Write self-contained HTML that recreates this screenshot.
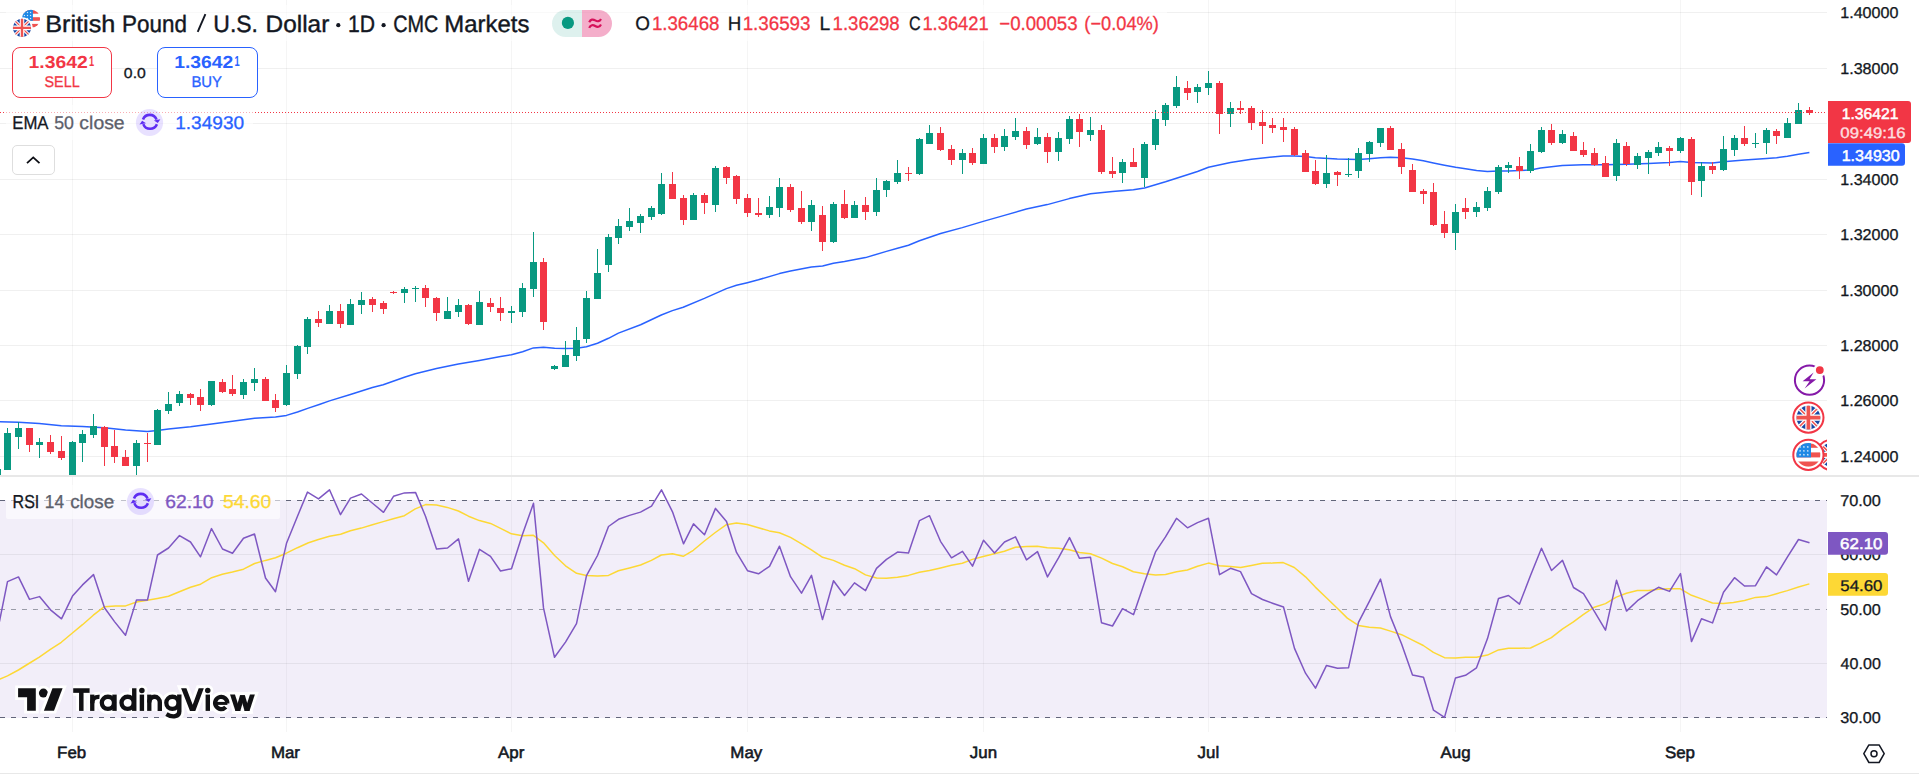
<!DOCTYPE html>
<html>
<head>
<meta charset="utf-8">
<title>GBPUSD chart</title>
<style>
html,body{margin:0;padding:0;background:#fff;}
body{width:1919px;height:774px;overflow:hidden;position:relative;font-family:"Liberation Sans",sans-serif;color:#131722;}
.t{position:absolute;white-space:nowrap;line-height:1;}
.ax{font-size:15.5px;transform:translateY(-50%);letter-spacing:0.15px;}
.mo{font-size:15.5px;transform:translate(-50%,-50%);font-weight:bold;letter-spacing:-0.3px;}
#title{left:46.5px;top:10px;font-size:22.5px;line-height:26px;}
#ohlc{left:636px;top:13px;font-size:17.5px;line-height:20px;}
#ohlc b{font-weight:normal;color:#f23645;}
#ohlc span{margin-left:9px}
.btn{background:#fff;position:absolute;top:47px;height:49px;width:98px;border:1px solid;border-radius:8px;text-align:center;font-weight:bold;}
.btn .p{position:absolute;left:0;right:0;top:5px;font-size:16px;line-height:20px;letter-spacing:0.6px}
.btn .p sup{font-size:12px;vertical-align:top;position:relative;top:-2px;letter-spacing:0}
.btn .l{position:absolute;left:0;right:0;top:25px;font-size:14.5px;line-height:20px;font-weight:normal;letter-spacing:0.2px}
.tag{position:absolute;color:#fff;font-size:15.5px;line-height:1;white-space:nowrap}
</style>
</head>
<body>
<svg id="chart" width="1919" height="774" viewBox="0 0 1919 774" style="position:absolute;left:0;top:0"><g shape-rendering="crispEdges"><rect x="72" y="0" width="1" height="732" fill="#000" fill-opacity="0.04"/><rect x="286" y="0" width="1" height="732" fill="#000" fill-opacity="0.04"/><rect x="511" y="0" width="1" height="732" fill="#000" fill-opacity="0.04"/><rect x="747" y="0" width="1" height="732" fill="#000" fill-opacity="0.04"/><rect x="983" y="0" width="1" height="732" fill="#000" fill-opacity="0.04"/><rect x="1208" y="0" width="1" height="732" fill="#000" fill-opacity="0.04"/><rect x="1455" y="0" width="1" height="732" fill="#000" fill-opacity="0.04"/><rect x="1680" y="0" width="1" height="732" fill="#000" fill-opacity="0.04"/><rect x="0" y="12" width="1827" height="1" fill="#000" fill-opacity="0.06"/><rect x="0" y="68" width="1827" height="1" fill="#000" fill-opacity="0.06"/><rect x="0" y="123" width="1827" height="1" fill="#000" fill-opacity="0.06"/><rect x="0" y="179" width="1827" height="1" fill="#000" fill-opacity="0.06"/><rect x="0" y="234" width="1827" height="1" fill="#000" fill-opacity="0.06"/><rect x="0" y="290" width="1827" height="1" fill="#000" fill-opacity="0.06"/><rect x="0" y="345" width="1827" height="1" fill="#000" fill-opacity="0.06"/><rect x="0" y="400" width="1827" height="1" fill="#000" fill-opacity="0.06"/><rect x="0" y="456" width="1827" height="1" fill="#000" fill-opacity="0.06"/></g>
<rect x="0" y="500" width="1827" height="218" fill="#7e57c2" fill-opacity="0.1" shape-rendering="crispEdges"/>
<rect x="0" y="554" width="1827" height="1" fill="#000" fill-opacity="0.06" shape-rendering="crispEdges"/>
<rect x="0" y="663" width="1827" height="1" fill="#000" fill-opacity="0.06" shape-rendering="crispEdges"/>
<line x1="0" y1="500.5" x2="1827" y2="500.5" stroke="#62657a" stroke-width="1" stroke-dasharray="5 6" shape-rendering="crispEdges"/>
<line x1="0" y1="609.5" x2="1827" y2="609.5" stroke="#9a9ca8" stroke-width="1" stroke-dasharray="5 6" shape-rendering="crispEdges"/>
<line x1="0" y1="717.5" x2="1827" y2="717.5" stroke="#62657a" stroke-width="1" stroke-dasharray="5 6" shape-rendering="crispEdges"/>
<clipPath id="cm"><rect x="0" y="0" width="1827" height="475"/></clipPath>
<clipPath id="cr"><rect x="0" y="477" width="1827" height="255"/></clipPath>
<path d="M-5.2,421.8 L0.0,421.8 L18.4,422.3 L39.3,423.6 L61.3,425.7 L82.5,426.5 L104.4,427.8 L125.6,430.1 L147.3,431.4 L157.4,430.6 L168.5,429.1 L190.5,426.7 L211.7,423.9 L232.4,421.3 L254.6,418.2 L275.5,416.9 L286.4,415.4 L297.5,412.0 L308.4,408.1 L320.0,404.2 L329.5,400.9 L350.4,394.5 L372.4,387.5 L383.2,384.7 L404.4,377.2 L415.3,373.8 L436.5,368.6 L458.4,364.0 L479.4,360.4 L500.6,356.5 L511.4,354.7 L522.6,351.8 L533.4,347.9 L543.5,347.2 L554.6,348.2 L565.5,348.5 L576.6,348.2 L586.4,346.7 L597.5,343.3 L608.5,338.3 L618.4,333.1 L640.6,324.8 L661.3,315.0 L672.4,310.6 L683.2,307.2 L704.4,298.4 L726.4,288.6 L736.5,285.3 L747.3,282.7 L758.4,279.8 L779.4,273.6 L790.5,271.1 L811.4,266.9 L822.6,265.9 L833.4,263.3 L844.5,261.5 L865.5,257.6 L886.4,251.4 L897.5,248.3 L908.5,245.2 L919.4,240.8 L940.6,233.5 L962.3,227.6 L983.2,221.4 L1004.4,215.4 L1026.4,209.0 L1047.3,204.6 L1069.3,198.6 L1090.5,193.7 L1112.5,191.6 L1133.4,189.8 L1144.5,188.0 L1165.5,181.8 L1187.4,174.8 L1197.5,171.5 L1208.5,167.3 L1230.5,162.4 L1251.4,159.3 L1272.4,156.9 L1283.2,155.9 L1294.3,155.9 L1305.5,156.4 L1315.3,157.7 L1337.3,159.0 L1358.4,159.5 L1369.3,158.7 L1380.4,157.7 L1390.5,157.2 L1401.6,157.7 L1412.5,159.0 L1423.3,160.8 L1433.4,162.9 L1444.5,165.2 L1455.6,167.3 L1465.5,168.8 L1476.6,170.6 L1487.4,171.4 L1498.5,170.9 L1508.5,170.9 L1519.4,170.6 L1530.5,169.9 L1540.6,168.0 L1562.3,165.5 L1583.2,164.7 L1605.5,164.7 L1626.4,164.2 L1648.4,163.4 L1669.3,162.6 L1680.4,161.6 L1691.5,162.4 L1712.5,162.9 L1723.3,161.8 L1744.5,160.0 L1766.5,158.5 L1776.6,157.7 L1787.4,156.2 L1798.5,154.3 L1809.4,152.5" fill="none" stroke="#2962ff" stroke-width="1.5" stroke-linejoin="round" clip-path="url(#cm)"/>
<g clip-path="url(#cm)" shape-rendering="crispEdges"><rect x="-3" y="468" width="1" height="29" fill="#089981"/><rect x="-6" y="469" width="7" height="28" fill="#089981"/><rect x="7" y="428" width="1" height="42" fill="#089981"/><rect x="4" y="433" width="7" height="37" fill="#089981"/><rect x="18" y="422" width="1" height="27" fill="#089981"/><rect x="15" y="428" width="7" height="9" fill="#089981"/><rect x="29" y="428" width="1" height="24" fill="#f23645"/><rect x="26" y="428" width="7" height="17" fill="#f23645"/><rect x="39" y="438" width="1" height="20" fill="#089981"/><rect x="36" y="442" width="7" height="3" fill="#089981"/><rect x="50" y="435" width="1" height="19" fill="#f23645"/><rect x="47" y="442" width="7" height="10" fill="#f23645"/><rect x="61" y="436" width="1" height="24" fill="#f23645"/><rect x="58" y="451" width="7" height="7" fill="#f23645"/><rect x="72" y="441" width="1" height="56" fill="#089981"/><rect x="69" y="442" width="7" height="55" fill="#089981"/><rect x="82" y="430" width="1" height="32" fill="#089981"/><rect x="79" y="434" width="7" height="9" fill="#089981"/><rect x="93" y="414" width="1" height="24" fill="#089981"/><rect x="90" y="426" width="7" height="9" fill="#089981"/><rect x="104" y="426" width="1" height="40" fill="#f23645"/><rect x="101" y="427" width="7" height="20" fill="#f23645"/><rect x="114" y="430" width="1" height="33" fill="#f23645"/><rect x="111" y="446" width="7" height="11" fill="#f23645"/><rect x="125" y="450" width="1" height="16" fill="#f23645"/><rect x="122" y="457" width="7" height="9" fill="#f23645"/><rect x="136" y="440" width="1" height="35" fill="#089981"/><rect x="133" y="443" width="7" height="23" fill="#089981"/><rect x="147" y="433" width="1" height="29" fill="#f23645"/><rect x="144" y="443" width="7" height="1" fill="#f23645"/><rect x="157" y="409" width="1" height="36" fill="#089981"/><rect x="154" y="410" width="7" height="35" fill="#089981"/><rect x="168" y="392" width="1" height="22" fill="#089981"/><rect x="165" y="404" width="7" height="7" fill="#089981"/><rect x="179" y="391" width="1" height="15" fill="#089981"/><rect x="176" y="394" width="7" height="9" fill="#089981"/><rect x="190" y="393" width="1" height="12" fill="#f23645"/><rect x="187" y="394" width="7" height="4" fill="#f23645"/><rect x="200" y="389" width="1" height="22" fill="#f23645"/><rect x="197" y="397" width="7" height="8" fill="#f23645"/><rect x="211" y="381" width="1" height="25" fill="#089981"/><rect x="208" y="381" width="7" height="24" fill="#089981"/><rect x="222" y="379" width="1" height="14" fill="#f23645"/><rect x="219" y="382" width="7" height="10" fill="#f23645"/><rect x="232" y="375" width="1" height="21" fill="#f23645"/><rect x="229" y="389" width="7" height="5" fill="#f23645"/><rect x="243" y="379" width="1" height="20" fill="#089981"/><rect x="240" y="382" width="7" height="13" fill="#089981"/><rect x="254" y="368" width="1" height="23" fill="#089981"/><rect x="251" y="379" width="7" height="4" fill="#089981"/><rect x="265" y="377" width="1" height="24" fill="#f23645"/><rect x="262" y="379" width="7" height="22" fill="#f23645"/><rect x="275" y="394" width="1" height="18" fill="#f23645"/><rect x="272" y="400" width="7" height="8" fill="#f23645"/><rect x="286" y="365" width="1" height="41" fill="#089981"/><rect x="283" y="373" width="7" height="32" fill="#089981"/><rect x="297" y="345" width="1" height="34" fill="#089981"/><rect x="294" y="346" width="7" height="28" fill="#089981"/><rect x="307" y="317" width="1" height="37" fill="#089981"/><rect x="304" y="319" width="7" height="28" fill="#089981"/><rect x="318" y="311" width="1" height="16" fill="#f23645"/><rect x="315" y="319" width="7" height="4" fill="#f23645"/><rect x="329" y="305" width="1" height="19" fill="#089981"/><rect x="326" y="311" width="7" height="13" fill="#089981"/><rect x="340" y="304" width="1" height="24" fill="#f23645"/><rect x="337" y="311" width="7" height="13" fill="#f23645"/><rect x="350" y="299" width="1" height="26" fill="#089981"/><rect x="347" y="304" width="7" height="21" fill="#089981"/><rect x="361" y="292" width="1" height="22" fill="#089981"/><rect x="358" y="300" width="7" height="5" fill="#089981"/><rect x="372" y="297" width="1" height="15" fill="#f23645"/><rect x="369" y="299" width="7" height="6" fill="#f23645"/><rect x="383" y="301" width="1" height="13" fill="#f23645"/><rect x="380" y="303" width="7" height="6" fill="#f23645"/><rect x="393" y="291" width="1" height="3" fill="#f23645"/><rect x="390" y="292" width="7" height="1" fill="#f23645"/><rect x="404" y="287" width="1" height="16" fill="#089981"/><rect x="401" y="289" width="7" height="4" fill="#089981"/><rect x="415" y="286" width="1" height="16" fill="#089981"/><rect x="412" y="288" width="7" height="1" fill="#089981"/><rect x="425" y="285" width="1" height="22" fill="#f23645"/><rect x="422" y="288" width="7" height="10" fill="#f23645"/><rect x="436" y="297" width="1" height="24" fill="#f23645"/><rect x="433" y="298" width="7" height="15" fill="#f23645"/><rect x="447" y="297" width="1" height="22" fill="#089981"/><rect x="444" y="311" width="7" height="8" fill="#089981"/><rect x="458" y="299" width="1" height="18" fill="#089981"/><rect x="455" y="305" width="7" height="7" fill="#089981"/><rect x="468" y="304" width="1" height="21" fill="#f23645"/><rect x="465" y="305" width="7" height="19" fill="#f23645"/><rect x="479" y="291" width="1" height="34" fill="#089981"/><rect x="476" y="302" width="7" height="23" fill="#089981"/><rect x="490" y="298" width="1" height="14" fill="#f23645"/><rect x="487" y="303" width="7" height="4" fill="#f23645"/><rect x="500" y="297" width="1" height="24" fill="#f23645"/><rect x="497" y="308" width="7" height="5" fill="#f23645"/><rect x="511" y="306" width="1" height="17" fill="#089981"/><rect x="508" y="311" width="7" height="2" fill="#089981"/><rect x="522" y="283" width="1" height="34" fill="#089981"/><rect x="519" y="288" width="7" height="24" fill="#089981"/><rect x="533" y="232" width="1" height="65" fill="#089981"/><rect x="530" y="262" width="7" height="27" fill="#089981"/><rect x="543" y="258" width="1" height="72" fill="#f23645"/><rect x="540" y="262" width="7" height="60" fill="#f23645"/><rect x="554" y="365" width="1" height="5" fill="#089981"/><rect x="551" y="366" width="7" height="3" fill="#089981"/><rect x="565" y="341" width="1" height="26" fill="#089981"/><rect x="562" y="355" width="7" height="12" fill="#089981"/><rect x="576" y="327" width="1" height="34" fill="#089981"/><rect x="573" y="340" width="7" height="16" fill="#089981"/><rect x="586" y="291" width="1" height="52" fill="#089981"/><rect x="583" y="298" width="7" height="41" fill="#089981"/><rect x="597" y="249" width="1" height="50" fill="#089981"/><rect x="594" y="273" width="7" height="26" fill="#089981"/><rect x="608" y="234" width="1" height="38" fill="#089981"/><rect x="605" y="237" width="7" height="28" fill="#089981"/><rect x="618" y="219" width="1" height="25" fill="#089981"/><rect x="615" y="226" width="7" height="12" fill="#089981"/><rect x="629" y="208" width="1" height="23" fill="#089981"/><rect x="626" y="221" width="7" height="6" fill="#089981"/><rect x="640" y="214" width="1" height="19" fill="#089981"/><rect x="637" y="216" width="7" height="7" fill="#089981"/><rect x="651" y="206" width="1" height="14" fill="#089981"/><rect x="648" y="208" width="7" height="9" fill="#089981"/><rect x="661" y="173" width="1" height="42" fill="#089981"/><rect x="658" y="184" width="7" height="30" fill="#089981"/><rect x="672" y="172" width="1" height="27" fill="#f23645"/><rect x="669" y="184" width="7" height="15" fill="#f23645"/><rect x="683" y="195" width="1" height="30" fill="#f23645"/><rect x="680" y="198" width="7" height="22" fill="#f23645"/><rect x="693" y="193" width="1" height="27" fill="#089981"/><rect x="690" y="195" width="7" height="25" fill="#089981"/><rect x="704" y="193" width="1" height="21" fill="#f23645"/><rect x="701" y="195" width="7" height="8" fill="#f23645"/><rect x="715" y="166" width="1" height="46" fill="#089981"/><rect x="712" y="168" width="7" height="37" fill="#089981"/><rect x="726" y="166" width="1" height="18" fill="#f23645"/><rect x="723" y="167" width="7" height="11" fill="#f23645"/><rect x="736" y="175" width="1" height="29" fill="#f23645"/><rect x="733" y="176" width="7" height="23" fill="#f23645"/><rect x="747" y="194" width="1" height="23" fill="#f23645"/><rect x="744" y="198" width="7" height="15" fill="#f23645"/><rect x="758" y="198" width="1" height="19" fill="#f23645"/><rect x="755" y="213" width="7" height="2" fill="#f23645"/><rect x="769" y="196" width="1" height="22" fill="#089981"/><rect x="766" y="207" width="7" height="8" fill="#089981"/><rect x="779" y="178" width="1" height="39" fill="#089981"/><rect x="776" y="187" width="7" height="21" fill="#089981"/><rect x="790" y="184" width="1" height="28" fill="#f23645"/><rect x="787" y="187" width="7" height="23" fill="#f23645"/><rect x="801" y="191" width="1" height="33" fill="#f23645"/><rect x="798" y="208" width="7" height="14" fill="#f23645"/><rect x="811" y="200" width="1" height="31" fill="#089981"/><rect x="808" y="205" width="7" height="17" fill="#089981"/><rect x="822" y="206" width="1" height="45" fill="#f23645"/><rect x="819" y="215" width="7" height="27" fill="#f23645"/><rect x="833" y="202" width="1" height="41" fill="#089981"/><rect x="830" y="204" width="7" height="38" fill="#089981"/><rect x="844" y="190" width="1" height="29" fill="#f23645"/><rect x="841" y="204" width="7" height="14" fill="#f23645"/><rect x="854" y="201" width="1" height="17" fill="#089981"/><rect x="851" y="205" width="7" height="13" fill="#089981"/><rect x="865" y="197" width="1" height="23" fill="#f23645"/><rect x="862" y="205" width="7" height="7" fill="#f23645"/><rect x="876" y="178" width="1" height="38" fill="#089981"/><rect x="873" y="190" width="7" height="22" fill="#089981"/><rect x="886" y="180" width="1" height="17" fill="#089981"/><rect x="883" y="181" width="7" height="9" fill="#089981"/><rect x="897" y="160" width="1" height="24" fill="#089981"/><rect x="894" y="173" width="7" height="9" fill="#089981"/><rect x="908" y="167" width="1" height="14" fill="#f23645"/><rect x="905" y="173" width="7" height="1" fill="#f23645"/><rect x="919" y="138" width="1" height="37" fill="#089981"/><rect x="916" y="139" width="7" height="35" fill="#089981"/><rect x="929" y="125" width="1" height="19" fill="#089981"/><rect x="926" y="133" width="7" height="11" fill="#089981"/><rect x="940" y="127" width="1" height="24" fill="#f23645"/><rect x="937" y="133" width="7" height="17" fill="#f23645"/><rect x="951" y="145" width="1" height="20" fill="#f23645"/><rect x="948" y="149" width="7" height="11" fill="#f23645"/><rect x="962" y="149" width="1" height="25" fill="#089981"/><rect x="959" y="153" width="7" height="7" fill="#089981"/><rect x="972" y="148" width="1" height="17" fill="#f23645"/><rect x="969" y="153" width="7" height="10" fill="#f23645"/><rect x="983" y="134" width="1" height="30" fill="#089981"/><rect x="980" y="138" width="7" height="26" fill="#089981"/><rect x="994" y="134" width="1" height="19" fill="#f23645"/><rect x="991" y="138" width="7" height="9" fill="#f23645"/><rect x="1004" y="129" width="1" height="22" fill="#089981"/><rect x="1001" y="136" width="7" height="11" fill="#089981"/><rect x="1015" y="118" width="1" height="22" fill="#089981"/><rect x="1012" y="131" width="7" height="6" fill="#089981"/><rect x="1026" y="127" width="1" height="22" fill="#f23645"/><rect x="1023" y="131" width="7" height="14" fill="#f23645"/><rect x="1037" y="128" width="1" height="17" fill="#089981"/><rect x="1034" y="137" width="7" height="7" fill="#089981"/><rect x="1047" y="133" width="1" height="30" fill="#f23645"/><rect x="1044" y="137" width="7" height="15" fill="#f23645"/><rect x="1058" y="132" width="1" height="29" fill="#089981"/><rect x="1055" y="138" width="7" height="14" fill="#089981"/><rect x="1069" y="116" width="1" height="28" fill="#089981"/><rect x="1066" y="119" width="7" height="20" fill="#089981"/><rect x="1079" y="114" width="1" height="33" fill="#f23645"/><rect x="1076" y="119" width="7" height="13" fill="#f23645"/><rect x="1090" y="117" width="1" height="24" fill="#089981"/><rect x="1087" y="130" width="7" height="5" fill="#089981"/><rect x="1101" y="125" width="1" height="49" fill="#f23645"/><rect x="1098" y="130" width="7" height="42" fill="#f23645"/><rect x="1112" y="157" width="1" height="21" fill="#f23645"/><rect x="1109" y="171" width="7" height="3" fill="#f23645"/><rect x="1122" y="159" width="1" height="24" fill="#089981"/><rect x="1119" y="162" width="7" height="11" fill="#089981"/><rect x="1133" y="148" width="1" height="19" fill="#f23645"/><rect x="1130" y="162" width="7" height="5" fill="#f23645"/><rect x="1144" y="142" width="1" height="45" fill="#089981"/><rect x="1141" y="144" width="7" height="34" fill="#089981"/><rect x="1155" y="110" width="1" height="40" fill="#089981"/><rect x="1152" y="119" width="7" height="26" fill="#089981"/><rect x="1165" y="103" width="1" height="23" fill="#089981"/><rect x="1162" y="105" width="7" height="15" fill="#089981"/><rect x="1176" y="76" width="1" height="32" fill="#089981"/><rect x="1173" y="87" width="7" height="19" fill="#089981"/><rect x="1187" y="81" width="1" height="19" fill="#f23645"/><rect x="1184" y="88" width="7" height="5" fill="#f23645"/><rect x="1197" y="84" width="1" height="19" fill="#089981"/><rect x="1194" y="87" width="7" height="5" fill="#089981"/><rect x="1208" y="71" width="1" height="24" fill="#089981"/><rect x="1205" y="83" width="7" height="5" fill="#089981"/><rect x="1219" y="81" width="1" height="53" fill="#f23645"/><rect x="1216" y="83" width="7" height="31" fill="#f23645"/><rect x="1230" y="102" width="1" height="25" fill="#089981"/><rect x="1227" y="108" width="7" height="6" fill="#089981"/><rect x="1240" y="101" width="1" height="13" fill="#f23645"/><rect x="1237" y="108" width="7" height="2" fill="#f23645"/><rect x="1251" y="106" width="1" height="24" fill="#f23645"/><rect x="1248" y="108" width="7" height="15" fill="#f23645"/><rect x="1262" y="110" width="1" height="34" fill="#f23645"/><rect x="1259" y="122" width="7" height="4" fill="#f23645"/><rect x="1272" y="118" width="1" height="15" fill="#f23645"/><rect x="1269" y="125" width="7" height="3" fill="#f23645"/><rect x="1283" y="118" width="1" height="24" fill="#f23645"/><rect x="1280" y="127" width="7" height="3" fill="#f23645"/><rect x="1294" y="127" width="1" height="29" fill="#f23645"/><rect x="1291" y="129" width="7" height="26" fill="#f23645"/><rect x="1305" y="150" width="1" height="22" fill="#f23645"/><rect x="1302" y="153" width="7" height="19" fill="#f23645"/><rect x="1315" y="160" width="1" height="25" fill="#f23645"/><rect x="1312" y="171" width="7" height="13" fill="#f23645"/><rect x="1326" y="155" width="1" height="33" fill="#089981"/><rect x="1323" y="173" width="7" height="11" fill="#089981"/><rect x="1337" y="171" width="1" height="15" fill="#f23645"/><rect x="1334" y="172" width="7" height="3" fill="#f23645"/><rect x="1348" y="158" width="1" height="19" fill="#089981"/><rect x="1345" y="174" width="7" height="1" fill="#089981"/><rect x="1358" y="148" width="1" height="30" fill="#089981"/><rect x="1355" y="153" width="7" height="18" fill="#089981"/><rect x="1369" y="141" width="1" height="21" fill="#089981"/><rect x="1366" y="142" width="7" height="12" fill="#089981"/><rect x="1380" y="128" width="1" height="19" fill="#089981"/><rect x="1377" y="128" width="7" height="15" fill="#089981"/><rect x="1390" y="126" width="1" height="24" fill="#f23645"/><rect x="1387" y="128" width="7" height="22" fill="#f23645"/><rect x="1401" y="143" width="1" height="31" fill="#f23645"/><rect x="1398" y="149" width="7" height="18" fill="#f23645"/><rect x="1412" y="164" width="1" height="28" fill="#f23645"/><rect x="1409" y="170" width="7" height="22" fill="#f23645"/><rect x="1423" y="189" width="1" height="15" fill="#f23645"/><rect x="1420" y="191" width="7" height="3" fill="#f23645"/><rect x="1433" y="183" width="1" height="43" fill="#f23645"/><rect x="1430" y="192" width="7" height="33" fill="#f23645"/><rect x="1444" y="211" width="1" height="27" fill="#f23645"/><rect x="1441" y="224" width="7" height="9" fill="#f23645"/><rect x="1455" y="204" width="1" height="46" fill="#089981"/><rect x="1452" y="212" width="7" height="21" fill="#089981"/><rect x="1465" y="198" width="1" height="21" fill="#f23645"/><rect x="1462" y="208" width="7" height="4" fill="#f23645"/><rect x="1476" y="202" width="1" height="15" fill="#089981"/><rect x="1473" y="207" width="7" height="5" fill="#089981"/><rect x="1487" y="187" width="1" height="24" fill="#089981"/><rect x="1484" y="191" width="7" height="17" fill="#089981"/><rect x="1498" y="165" width="1" height="29" fill="#089981"/><rect x="1495" y="167" width="7" height="25" fill="#089981"/><rect x="1508" y="162" width="1" height="11" fill="#089981"/><rect x="1505" y="165" width="7" height="3" fill="#089981"/><rect x="1519" y="157" width="1" height="22" fill="#f23645"/><rect x="1516" y="166" width="7" height="5" fill="#f23645"/><rect x="1530" y="144" width="1" height="29" fill="#089981"/><rect x="1527" y="151" width="7" height="20" fill="#089981"/><rect x="1541" y="127" width="1" height="26" fill="#089981"/><rect x="1538" y="130" width="7" height="22" fill="#089981"/><rect x="1551" y="124" width="1" height="21" fill="#f23645"/><rect x="1548" y="130" width="7" height="13" fill="#f23645"/><rect x="1562" y="130" width="1" height="14" fill="#089981"/><rect x="1559" y="134" width="7" height="9" fill="#089981"/><rect x="1573" y="132" width="1" height="19" fill="#f23645"/><rect x="1570" y="136" width="7" height="15" fill="#f23645"/><rect x="1583" y="142" width="1" height="15" fill="#f23645"/><rect x="1580" y="150" width="7" height="5" fill="#f23645"/><rect x="1594" y="148" width="1" height="18" fill="#f23645"/><rect x="1591" y="153" width="7" height="12" fill="#f23645"/><rect x="1605" y="156" width="1" height="21" fill="#f23645"/><rect x="1602" y="163" width="7" height="14" fill="#f23645"/><rect x="1616" y="139" width="1" height="42" fill="#089981"/><rect x="1613" y="143" width="7" height="33" fill="#089981"/><rect x="1626" y="142" width="1" height="24" fill="#f23645"/><rect x="1623" y="146" width="7" height="18" fill="#f23645"/><rect x="1637" y="153" width="1" height="16" fill="#089981"/><rect x="1634" y="156" width="7" height="9" fill="#089981"/><rect x="1648" y="150" width="1" height="24" fill="#089981"/><rect x="1645" y="152" width="7" height="6" fill="#089981"/><rect x="1658" y="142" width="1" height="14" fill="#089981"/><rect x="1655" y="147" width="7" height="6" fill="#089981"/><rect x="1669" y="146" width="1" height="20" fill="#f23645"/><rect x="1666" y="148" width="7" height="3" fill="#f23645"/><rect x="1680" y="137" width="1" height="16" fill="#089981"/><rect x="1677" y="138" width="7" height="13" fill="#089981"/><rect x="1691" y="137" width="1" height="58" fill="#f23645"/><rect x="1688" y="139" width="7" height="43" fill="#f23645"/><rect x="1701" y="162" width="1" height="35" fill="#089981"/><rect x="1698" y="166" width="7" height="15" fill="#089981"/><rect x="1712" y="162" width="1" height="12" fill="#f23645"/><rect x="1709" y="166" width="7" height="4" fill="#f23645"/><rect x="1723" y="136" width="1" height="35" fill="#089981"/><rect x="1720" y="149" width="7" height="21" fill="#089981"/><rect x="1734" y="135" width="1" height="21" fill="#089981"/><rect x="1731" y="138" width="7" height="12" fill="#089981"/><rect x="1744" y="126" width="1" height="20" fill="#f23645"/><rect x="1741" y="138" width="7" height="6" fill="#f23645"/><rect x="1755" y="133" width="1" height="15" fill="#089981"/><rect x="1752" y="143" width="7" height="1" fill="#089981"/><rect x="1766" y="128" width="1" height="26" fill="#089981"/><rect x="1763" y="130" width="7" height="13" fill="#089981"/><rect x="1776" y="129" width="1" height="15" fill="#f23645"/><rect x="1773" y="131" width="7" height="5" fill="#f23645"/><rect x="1787" y="118" width="1" height="20" fill="#089981"/><rect x="1784" y="123" width="7" height="15" fill="#089981"/><rect x="1798" y="103" width="1" height="21" fill="#089981"/><rect x="1795" y="110" width="7" height="14" fill="#089981"/><rect x="1809" y="107" width="1" height="8" fill="#f23645"/><rect x="1806" y="110" width="7" height="3" fill="#f23645"/></g>
<line x1="0" y1="112.5" x2="1827" y2="112.5" stroke="#f23645" stroke-width="1" stroke-dasharray="1 2" shape-rendering="crispEdges"/>
<path d="M-5.2,681.6 L0.0,679.0 L7.5,675.9 L18.4,670.0 L28.9,663.5 L39.3,657.1 L50.4,649.3 L61.3,642.3 L72.4,633.0 L82.5,624.7 L93.3,615.2 L104.4,606.7 L115.3,605.9 L125.6,605.9 L136.5,602.0 L147.3,600.2 L157.4,598.4 L168.5,596.3 L179.4,591.7 L190.5,587.3 L200.6,584.2 L211.7,577.7 L222.3,574.3 L232.4,572.0 L243.5,569.2 L254.6,563.5 L265.5,560.4 L275.5,557.8 L286.4,553.2 L297.5,547.7 L308.5,542.8 L318.4,539.5 L329.5,536.3 L340.6,534.3 L350.4,530.7 L361.3,528.1 L372.4,524.7 L383.2,521.6 L393.3,518.8 L404.4,515.7 L415.3,508.9 L425.6,504.6 L436.5,505.1 L447.3,507.4 L458.4,511.0 L468.5,516.2 L479.4,520.6 L490.5,523.4 L500.6,528.3 L511.4,533.8 L522.6,535.8 L533.4,535.3 L543.5,542.8 L554.6,555.5 L565.5,565.8 L576.6,573.3 L586.4,575.4 L597.5,575.9 L608.5,575.4 L618.4,570.7 L629.5,567.9 L640.6,565.0 L651.4,560.4 L661.3,555.0 L672.4,553.7 L683.2,556.3 L693.3,550.3 L704.4,541.0 L715.3,532.5 L726.4,524.7 L736.5,522.9 L747.3,524.5 L758.4,527.8 L769.3,530.9 L779.4,532.7 L790.5,537.4 L801.6,543.8 L811.4,549.8 L822.6,557.3 L833.4,560.4 L844.5,565.3 L854.6,568.7 L865.5,574.9 L876.6,578.0 L886.4,578.2 L897.5,577.2 L908.5,575.4 L919.4,572.3 L929.5,570.5 L940.6,567.9 L951.4,565.3 L962.3,563.2 L972.4,559.4 L983.2,556.5 L994.3,553.7 L1004.4,551.3 L1015.3,547.2 L1026.4,546.4 L1037.3,546.2 L1047.3,547.7 L1058.4,548.2 L1069.3,549.8 L1079.4,552.4 L1090.5,553.7 L1101.6,558.1 L1112.5,563.5 L1122.6,566.8 L1133.4,571.8 L1144.5,573.8 L1155.6,574.9 L1165.5,574.6 L1176.6,571.8 L1187.4,570.0 L1197.5,566.3 L1208.5,563.1 L1219.4,565.7 L1230.5,566.4 L1240.6,567.5 L1251.4,565.4 L1262.3,563.3 L1272.4,563.1 L1283.2,562.6 L1294.3,567.5 L1305.5,576.8 L1315.3,587.1 L1326.4,597.7 L1337.3,608.3 L1347.3,618.1 L1358.4,625.4 L1369.3,627.2 L1380.4,628.0 L1390.5,631.1 L1401.6,634.7 L1412.5,640.1 L1423.3,645.5 L1433.4,652.3 L1444.5,657.7 L1455.6,657.9 L1465.5,657.2 L1476.6,657.2 L1487.4,655.1 L1498.5,649.9 L1508.5,648.3 L1519.4,648.3 L1530.5,648.0 L1540.6,643.1 L1551.4,637.7 L1562.3,629.1 L1573.4,621.9 L1583.2,614.7 L1594.3,607.2 L1605.5,603.6 L1616.3,597.1 L1626.4,593.2 L1637.3,590.6 L1648.4,590.4 L1658.4,589.3 L1669.3,588.8 L1680.4,588.8 L1691.5,595.3 L1701.6,598.9 L1712.5,603.0 L1723.3,603.6 L1733.4,602.5 L1744.5,600.5 L1755.6,597.4 L1766.5,596.6 L1776.6,593.7 L1787.4,590.6 L1798.5,587.0 L1809.4,583.9" fill="none" stroke="#fdd835" stroke-width="1.5" stroke-linejoin="round" clip-path="url(#cr)"/>
<path d="M-13.5,645.4 L-2.5,631.2 L7.5,581.6 L18.5,576.9 L29.5,599.4 L39.5,596.6 L50.5,609.8 L61.5,618.8 L72.5,596.1 L82.5,584.9 L93.5,574.6 L104.5,607.7 L114.5,621.6 L125.5,635.3 L136.5,599.9 L147.5,599.9 L157.5,555.0 L168.5,548.0 L179.5,535.6 L190.5,542.0 L200.5,556.8 L211.5,528.6 L222.5,549.0 L232.5,553.2 L243.5,538.2 L254.5,534.0 L265.5,578.0 L275.5,591.7 L286.5,543.3 L297.5,516.2 L307.5,492.1 L318.5,498.9 L329.5,489.8 L340.5,514.6 L350.5,498.1 L361.5,494.0 L372.5,503.3 L383.5,512.3 L393.5,496.3 L404.5,492.9 L415.5,492.4 L425.5,516.2 L436.5,549.0 L447.5,548.0 L458.5,538.9 L468.5,581.3 L479.5,549.3 L490.5,556.3 L500.5,571.0 L511.5,568.7 L522.5,534.3 L533.5,503.3 L543.5,607.9 L554.5,657.3 L565.5,642.1 L576.5,623.7 L586.5,575.6 L597.5,555.5 L608.5,526.5 L618.5,519.3 L629.5,515.4 L640.5,512.1 L651.5,506.1 L661.5,489.8 L672.5,511.8 L683.5,543.8 L693.5,523.9 L704.5,534.8 L715.5,508.4 L726.5,521.4 L736.5,552.4 L747.5,570.7 L758.5,573.8 L769.5,566.3 L779.5,546.2 L790.5,576.7 L801.5,593.2 L811.5,575.4 L822.5,619.6 L833.5,580.8 L844.5,595.5 L854.5,582.9 L865.5,590.6 L876.5,568.4 L886.5,559.4 L897.5,552.1 L908.5,552.9 L919.5,520.6 L929.5,515.7 L940.5,541.3 L951.5,557.8 L962.5,551.3 L972.5,566.1 L983.5,540.2 L994.5,552.9 L1004.5,542.0 L1015.5,536.9 L1026.5,559.9 L1037.5,551.6 L1047.5,576.9 L1058.5,557.8 L1069.5,537.6 L1079.5,558.3 L1090.5,557.3 L1101.5,622.7 L1112.5,626.0 L1122.5,608.7 L1133.5,614.7 L1144.5,582.6 L1155.5,551.9 L1165.5,536.9 L1176.5,518.3 L1187.5,527.8 L1197.5,522.6 L1208.5,518.3 L1219.5,574.7 L1230.5,568.3 L1240.5,571.6 L1251.5,593.6 L1262.5,599.5 L1272.5,603.2 L1283.5,607.0 L1294.5,648.4 L1305.5,673.2 L1315.5,688.2 L1326.5,665.4 L1337.5,668.3 L1348.5,667.8 L1358.5,622.3 L1369.5,601.1 L1380.5,579.1 L1390.5,616.6 L1401.5,643.7 L1412.5,675.0 L1423.5,677.3 L1433.5,710.2 L1444.5,717.4 L1455.5,677.9 L1465.5,675.3 L1476.5,667.8 L1487.5,638.6 L1498.5,598.5 L1508.5,595.5 L1519.5,604.1 L1530.5,575.6 L1541.5,548.2 L1551.5,570.5 L1562.5,560.4 L1573.5,587.5 L1583.5,593.7 L1594.5,611.6 L1605.5,630.2 L1616.5,580.3 L1626.5,611.1 L1637.5,600.7 L1648.5,593.2 L1658.5,587.3 L1669.5,591.4 L1680.5,573.6 L1691.5,641.6 L1701.5,618.8 L1712.5,622.9 L1723.5,592.2 L1734.5,577.7 L1744.5,586.0 L1755.5,585.7 L1766.5,566.8 L1776.5,574.9 L1787.5,556.8 L1798.5,539.5 L1809.5,542.8" fill="none" stroke="#7e57c2" stroke-width="1.5" stroke-linejoin="round" clip-path="url(#cr)"/>
<rect x="0" y="475" width="1919" height="2" fill="#e8e8e8" shape-rendering="crispEdges"/>
<rect x="0" y="773" width="1919" height="1" fill="#e8e8e8" shape-rendering="crispEdges"/></svg>

<!-- legend translucent boxes -->
<div style="position:absolute;left:6px;top:5px;width:1161px;height:36px;background:rgba(255,255,255,0.6);border-radius:2px"></div>
<div style="position:absolute;left:6px;top:105px;width:247px;height:35px;background:rgba(255,255,255,0.6);border-radius:2px"></div>
<div style="position:absolute;left:6px;top:485px;width:274px;height:34px;background:rgba(255,255,255,0.6);border-radius:2px"></div>

<!-- symbol logos -->
<svg style="position:absolute;left:10px;top:7px" width="34" height="34" viewBox="10 7 34 34">
  <defs>
    <clipPath id="cus"><circle cx="31" cy="18.8" r="9.1"/></clipPath>
    <clipPath id="cuk"><circle cx="22.0" cy="27.9" r="9.1"/></clipPath>
  </defs>
  <g clip-path="url(#cus)">
    <rect x="21" y="9" width="20" height="20" fill="#fff"/>
    <rect x="21" y="10" width="20" height="3.7" fill="#ef5350"/>
    <rect x="21" y="17.2" width="20" height="3.6" fill="#ef5350"/>
    <rect x="21" y="23.9" width="20" height="3.6" fill="#ef5350"/>
    <rect x="21" y="9" width="11.9" height="11.8" fill="#1e88e5"/>
    <g fill="#fff"><polygon points="24.40,11.55 24.65,12.15 25.30,12.21 24.81,12.63 24.96,13.27 24.40,12.93 23.84,13.27 23.99,12.63 23.50,12.21 24.15,12.15"/><polygon points="27.50,11.55 27.75,12.15 28.40,12.21 27.91,12.63 28.06,13.27 27.50,12.93 26.94,13.27 27.09,12.63 26.60,12.21 27.25,12.15"/><polygon points="30.60,11.55 30.85,12.15 31.50,12.21 31.01,12.63 31.16,13.27 30.60,12.93 30.04,13.27 30.19,12.63 29.70,12.21 30.35,12.15"/><polygon points="24.40,14.55 24.65,15.15 25.30,15.21 24.81,15.63 24.96,16.27 24.40,15.93 23.84,16.27 23.99,15.63 23.50,15.21 24.15,15.15"/><polygon points="27.50,14.55 27.75,15.15 28.40,15.21 27.91,15.63 28.06,16.27 27.50,15.93 26.94,16.27 27.09,15.63 26.60,15.21 27.25,15.15"/><polygon points="30.60,14.55 30.85,15.15 31.50,15.21 31.01,15.63 31.16,16.27 30.60,15.93 30.04,16.27 30.19,15.63 29.70,15.21 30.35,15.15"/><polygon points="24.40,17.55 24.65,18.15 25.30,18.21 24.81,18.63 24.96,19.27 24.40,18.93 23.84,19.27 23.99,18.63 23.50,18.21 24.15,18.15"/><polygon points="27.50,17.55 27.75,18.15 28.40,18.21 27.91,18.63 28.06,19.27 27.50,18.93 26.94,19.27 27.09,18.63 26.60,18.21 27.25,18.15"/><polygon points="30.60,17.55 30.85,18.15 31.50,18.21 31.01,18.63 31.16,19.27 30.60,18.93 30.04,19.27 30.19,18.63 29.70,18.21 30.35,18.15"/></g>
  </g>
  <circle cx="22.0" cy="27.9" r="10.7" fill="#fff"/>
  <g clip-path="url(#cuk)">
    <rect x="11.9" y="17.799999999999997" width="20.2" height="20.2" fill="#1848a5"/>
    <path d="M11.9 17.799999999999997 L32.1 38.0 M32.1 17.799999999999997 L11.9 38.0" stroke="#fff" stroke-width="3.2"/>
    <path d="M11.9 17.799999999999997 L32.1 38.0 M32.1 17.799999999999997 L11.9 38.0" stroke="#ef5350" stroke-width="1.2"/>
    <path d="M22.0 17.799999999999997 V38.0 M11.9 27.9 H32.1" stroke="#fff" stroke-width="4.6"/>
    <path d="M22.0 17.799999999999997 V38.0 M11.9 27.9 H32.1" stroke="#ef5350" stroke-width="2.4"/>
  </g>
</svg>


<svg style="position:absolute;left:552px;top:10px" width="60" height="27" viewBox="552 10 60 27">
  <path d="M582 10 H565.5 a13.5 13.5 0 0 0 0 27 H582 Z" fill="#089981" fill-opacity="0.135"/>
  <path d="M582 10 H598.5 a13.5 13.5 0 0 1 0 27 H582 Z" fill="#e0246e" fill-opacity="0.37"/>
  <circle cx="567.9" cy="22.9" r="6.1" fill="#089981"/>
  <path d="M589.2 22.3 C590.6 19.2 593 19 595.2 20.4 S599.6 21.6 601 18.9 M589.2 27.9 C590.6 24.8 593 24.6 595.2 26 S599.6 27.2 601 24.5" fill="none" stroke="#d6125a" stroke-width="2.2"/>
</svg>


<!-- buy / sell -->
<div class="btn" style="left:12px;border-color:#f23645"></div>
<div class="btn" style="left:157px;width:99px;border-color:#2962ff"></div>

<!-- EMA legend -->
<svg style="position:absolute;left:136px;top:108.9px;overflow:visible" width="27" height="27" viewBox="0 0 27 27">
  <circle cx="13.5" cy="13.5" r="13.6" fill="#6234ff" fill-opacity="0.15"/>
  <g><path d="M7.0 10.5 A7.3 7.3 0 0 1 20.6 10.6" fill="none" stroke="#5e2df2" stroke-width="2.6"/><path d="M21.8 13.9 L17.9 11.4 L24.4 10.2 Z" fill="#5e2df2"/></g>
  <g transform="rotate(180 13.95 12.85)"><path d="M7.0 10.5 A7.3 7.3 0 0 1 20.6 10.6" fill="none" stroke="#5e2df2" stroke-width="2.6"/><path d="M21.8 13.9 L17.9 11.4 L24.4 10.2 Z" fill="#5e2df2"/></g>
</svg>

<!-- collapse button -->
<div style="position:absolute;left:12px;top:145px;width:41px;height:28px;border:1px solid #dedede;border-radius:5px;background:#fff"></div>
<svg style="position:absolute;left:24px;top:152px" width="18" height="16" viewBox="0 0 18 16"><path d="M3 11.2 L9.25 5.4 L15.5 11.2" fill="none" stroke="#0c0e14" stroke-width="1.8"/></svg>

<!-- RSI legend -->

<svg style="position:absolute;left:126.7px;top:487.7px;overflow:visible" width="27" height="27" viewBox="0 0 27 27">
  <circle cx="13.5" cy="13.5" r="13.6" fill="#6234ff" fill-opacity="0.15"/>
  <g><path d="M7.0 10.5 A7.3 7.3 0 0 1 20.6 10.6" fill="none" stroke="#5e2df2" stroke-width="2.6"/><path d="M21.8 13.9 L17.9 11.4 L24.4 10.2 Z" fill="#5e2df2"/></g>
  <g transform="rotate(180 13.95 12.85)"><path d="M7.0 10.5 A7.3 7.3 0 0 1 20.6 10.6" fill="none" stroke="#5e2df2" stroke-width="2.6"/><path d="M21.8 13.9 L17.9 11.4 L24.4 10.2 Z" fill="#5e2df2"/></g>
</svg>


<!-- price tags -->

<!-- right side icons -->
<svg style="position:absolute;left:1788px;top:360px" width="39" height="115" viewBox="1788 360 39 115">
  <defs>
    <clipPath id="k2"><circle cx="1831.5" cy="454.9" r="11.9"/></clipPath>
    <clipPath id="k1"><circle cx="1808.4" cy="417.6" r="11.9"/></clipPath>
    <clipPath id="u1"><circle cx="1808.4" cy="454.9" r="11.9"/></clipPath>
  </defs>
  <!-- lightning -->
  <circle cx="1809.5" cy="380.2" r="14.6" fill="#fff" stroke="#8519a8" stroke-width="2"/>
  <path d="M1813.6 372.4 L1802.6 381.3 L1809.6 381.3 L1804.6 388.5 L1816.4 379.3 L1809.6 379.3 Z" fill="#8519a8"/>
  <circle cx="1819.8" cy="370.1" r="6.4" fill="#fff"/>
  <circle cx="1819.8" cy="370.1" r="3.9" fill="#f23645"/>
  <!-- second UK (behind) -->
  <circle cx="1831.5" cy="454.9" r="15.1" fill="#fff" stroke="#f23645" stroke-width="2"/>
  <g clip-path="url(#k2)">
    <rect x="1818.6" y="442.0" width="25.8" height="25.8" fill="#1848a5"/>
    <path d="M1818.6 442.0 L1844.4 467.79999999999995 M1844.4 442.0 L1818.6 467.79999999999995" stroke="#fff" stroke-width="3.8"/>
    <path d="M1818.6 442.0 L1844.4 467.79999999999995 M1844.4 442.0 L1818.6 467.79999999999995" stroke="#ef5350" stroke-width="1.5"/>
    <path d="M1831.5 442.0 V467.79999999999995 M1818.6 454.9 H1844.4" stroke="#fff" stroke-width="6.2"/>
    <path d="M1831.5 442.0 V467.79999999999995 M1818.6 454.9 H1844.4" stroke="#ef5350" stroke-width="3.7"/>
  </g>
  <!-- UK -->
  <circle cx="1808.4" cy="417.6" r="15.1" fill="#fff" stroke="#f23645" stroke-width="2"/>
  <g clip-path="url(#k1)">
    <rect x="1795.5" y="404.70000000000005" width="25.8" height="25.8" fill="#1848a5"/>
    <path d="M1795.5 404.70000000000005 L1821.3000000000002 430.5 M1821.3000000000002 404.70000000000005 L1795.5 430.5" stroke="#fff" stroke-width="3.8"/>
    <path d="M1795.5 404.70000000000005 L1821.3000000000002 430.5 M1821.3000000000002 404.70000000000005 L1795.5 430.5" stroke="#ef5350" stroke-width="1.5"/>
    <path d="M1808.4 404.70000000000005 V430.5 M1795.5 417.6 H1821.3000000000002" stroke="#fff" stroke-width="6.2"/>
    <path d="M1808.4 404.70000000000005 V430.5 M1795.5 417.6 H1821.3000000000002" stroke="#ef5350" stroke-width="3.7"/>
  </g>
  <!-- US -->
  <circle cx="1808.4" cy="454.9" r="15.1" fill="#fff" stroke="#f23645" stroke-width="2"/>
  <g clip-path="url(#u1)">
    <rect x="1796" y="442.5" width="25" height="25" fill="#fff"/>
    <rect x="1796" y="443.4" width="25" height="4.4" fill="#ef5350"/>
    <rect x="1796" y="452.4" width="25" height="5" fill="#ef5350"/>
    <rect x="1796" y="461.5" width="25" height="5.3" fill="#ef5350"/>
    <rect x="1796" y="442.5" width="15" height="14.9" fill="#1e88e5"/>
    <g fill="#fff"><polygon points="1800.10,445.85 1800.40,446.58 1801.19,446.64 1800.59,447.16 1800.78,447.93 1800.10,447.52 1799.42,447.93 1799.61,447.16 1799.01,446.64 1799.80,446.58"/><polygon points="1803.90,445.85 1804.20,446.58 1804.99,446.64 1804.39,447.16 1804.58,447.93 1803.90,447.52 1803.22,447.93 1803.41,447.16 1802.81,446.64 1803.60,446.58"/><polygon points="1807.80,445.85 1808.10,446.58 1808.89,446.64 1808.29,447.16 1808.48,447.93 1807.80,447.52 1807.12,447.93 1807.31,447.16 1806.71,446.64 1807.50,446.58"/><polygon points="1800.10,449.75 1800.40,450.48 1801.19,450.54 1800.59,451.06 1800.78,451.83 1800.10,451.42 1799.42,451.83 1799.61,451.06 1799.01,450.54 1799.80,450.48"/><polygon points="1803.90,449.75 1804.20,450.48 1804.99,450.54 1804.39,451.06 1804.58,451.83 1803.90,451.42 1803.22,451.83 1803.41,451.06 1802.81,450.54 1803.60,450.48"/><polygon points="1807.80,449.75 1808.10,450.48 1808.89,450.54 1808.29,451.06 1808.48,451.83 1807.80,451.42 1807.12,451.83 1807.31,451.06 1806.71,450.54 1807.50,450.48"/><polygon points="1800.10,453.55 1800.40,454.28 1801.19,454.34 1800.59,454.86 1800.78,455.63 1800.10,455.22 1799.42,455.63 1799.61,454.86 1799.01,454.34 1799.80,454.28"/><polygon points="1803.90,453.55 1804.20,454.28 1804.99,454.34 1804.39,454.86 1804.58,455.63 1803.90,455.22 1803.22,455.63 1803.41,454.86 1802.81,454.34 1803.60,454.28"/><polygon points="1807.80,453.55 1808.10,454.28 1808.89,454.34 1808.29,454.86 1808.48,455.63 1807.80,455.22 1807.12,455.63 1807.31,454.86 1806.71,454.34 1807.50,454.28"/></g>
  </g>
</svg>

<!-- settings hex -->
<svg style="position:absolute;left:1860px;top:741px" width="28" height="26" viewBox="0 0 28 26"><path d="M3.8 12.7 L8.9 3.9 H19.1 L24.2 12.7 L19.1 21.5 H8.9 Z" fill="none" stroke="#131722" stroke-width="1.5" stroke-linejoin="round"/><circle cx="14" cy="12.7" r="3" fill="none" stroke="#131722" stroke-width="1.5"/></svg>

<!-- TradingView logo -->
<svg style="position:absolute;left:10px;top:680px" width="260" height="46" viewBox="10 680 260 46">
  <g fill="#111114" stroke="#fff" stroke-width="5.8" stroke-linejoin="miter" paint-order="stroke">
    <path d="M18.1 688.3 H35.8 V710.7 H27.1 V697.2 H18.1 Z"/>
    <circle cx="43.4" cy="693.1" r="4.5"/>
    <path d="M52.5 688.3 H62.6 L54 710.7 H43.9 Z"/>
  </g>
</svg>
<svg width="1919" height="774" viewBox="0 0 1919 774" style="position:absolute;left:0;top:0;font-family:'Liberation Sans',sans-serif;font-kerning:none" text-rendering="geometricPrecision"><text x="45.23" y="31.80" font-size="23.69" textLength="70.11" lengthAdjust="spacingAndGlyphs" fill="#131722" stroke="#131722" stroke-width="0.4">British</text>
<text x="122.06" y="31.80" font-size="23.69" textLength="64.89" lengthAdjust="spacingAndGlyphs" fill="#131722" stroke="#131722" stroke-width="0.4">Pound</text>
<text x="213.33" y="31.80" font-size="23.69" textLength="44.67" lengthAdjust="spacingAndGlyphs" fill="#131722" stroke="#131722" stroke-width="0.4">U.S.</text>
<text x="265.60" y="31.80" font-size="23.69" textLength="63.71" lengthAdjust="spacingAndGlyphs" fill="#131722" stroke="#131722" stroke-width="0.4">Dollar</text>
<text x="348.09" y="31.80" font-size="23.69" textLength="27.02" lengthAdjust="spacingAndGlyphs" fill="#131722" stroke="#131722" stroke-width="0.4">1D</text>
<text x="393.19" y="31.80" font-size="23.69" textLength="45.16" lengthAdjust="spacingAndGlyphs" fill="#131722" stroke="#131722" stroke-width="0.4">CMC</text>
<text x="444.34" y="31.80" font-size="23.69" textLength="85.03" lengthAdjust="spacingAndGlyphs" fill="#131722" stroke="#131722" stroke-width="0.4">Markets</text>
<line x1="197.7" y1="31.9" x2="205.4" y2="14.2" stroke="#131722" stroke-width="1.9"/>
<circle cx="338.3" cy="25.2" r="2.1" fill="#131722"/><circle cx="383.6" cy="25.2" r="2.1" fill="#131722"/>
<text x="635.20" y="29.90" font-size="19.33" textLength="14.70" lengthAdjust="spacingAndGlyphs" fill="#131722" stroke="#131722" stroke-width="0.3">O</text>
<text x="651.88" y="29.90" font-size="19.33" textLength="67.54" lengthAdjust="spacingAndGlyphs" fill="#f23645" stroke="#f23645" stroke-width="0.3">1.36468</text>
<text x="727.66" y="29.90" font-size="19.33" textLength="13.57" lengthAdjust="spacingAndGlyphs" fill="#131722" stroke="#131722" stroke-width="0.3">H</text>
<text x="742.67" y="29.90" font-size="19.33" textLength="67.85" lengthAdjust="spacingAndGlyphs" fill="#f23645" stroke="#f23645" stroke-width="0.3">1.36593</text>
<text x="819.52" y="29.90" font-size="19.33" textLength="10.72" lengthAdjust="spacingAndGlyphs" fill="#131722" stroke="#131722" stroke-width="0.3">L</text>
<text x="832.59" y="29.90" font-size="19.33" textLength="67.12" lengthAdjust="spacingAndGlyphs" fill="#f23645" stroke="#f23645" stroke-width="0.3">1.36298</text>
<text x="908.88" y="29.90" font-size="19.33" textLength="11.63" lengthAdjust="spacingAndGlyphs" fill="#131722" stroke="#131722" stroke-width="0.3">C</text>
<text x="922.40" y="29.90" font-size="19.33" textLength="66.29" lengthAdjust="spacingAndGlyphs" fill="#f23645" stroke="#f23645" stroke-width="0.3">1.36421</text>
<text x="999.28" y="29.90" font-size="19.33" textLength="78.34" lengthAdjust="spacingAndGlyphs" fill="#f23645" stroke="#f23645" stroke-width="0.3">−0.00053</text>
<text x="1084.37" y="29.90" font-size="19.33" textLength="74.46" lengthAdjust="spacingAndGlyphs" fill="#f23645" stroke="#f23645" stroke-width="0.3">(−0.04%)</text>
<text x="28.58" y="67.80" font-size="17.44" textLength="59.19" lengthAdjust="spacingAndGlyphs" fill="#f23645" font-weight="bold">1.3642</text>
<text x="88.92" y="65.70" font-size="14.39" textLength="5.14" lengthAdjust="spacingAndGlyphs" fill="#f23645" font-weight="bold">1</text>
<text x="44.55" y="87.40" font-size="15.55" textLength="35.13" lengthAdjust="spacingAndGlyphs" fill="#f23645" stroke="#f23645" stroke-width="0.3">SELL</text>
<text x="123.88" y="77.70" font-size="14.39" textLength="21.93" lengthAdjust="spacingAndGlyphs" fill="#131722" stroke="#131722" stroke-width="0.3">0.0</text>
<text x="174.28" y="67.80" font-size="17.44" textLength="59.09" lengthAdjust="spacingAndGlyphs" fill="#2962ff" font-weight="bold">1.3642</text>
<text x="234.62" y="65.70" font-size="14.39" textLength="5.14" lengthAdjust="spacingAndGlyphs" fill="#2962ff" font-weight="bold">1</text>
<text x="191.38" y="87.40" font-size="15.55" textLength="30.65" lengthAdjust="spacingAndGlyphs" fill="#2962ff" stroke="#2962ff" stroke-width="0.3">BUY</text>
<text x="12.23" y="128.80" font-size="18.46" textLength="36.31" lengthAdjust="spacingAndGlyphs" fill="#131722" stroke="#131722" stroke-width="0.3">EMA</text>
<text x="54.19" y="128.80" font-size="18.46" textLength="19.70" lengthAdjust="spacingAndGlyphs" fill="#5d606b" stroke="#5d606b" stroke-width="0.3">50</text>
<text x="79.38" y="128.80" font-size="18.46" textLength="45.29" lengthAdjust="spacingAndGlyphs" fill="#5d606b" stroke="#5d606b" stroke-width="0.3">close</text>
<text x="175.15" y="128.80" font-size="18.46" textLength="69.00" lengthAdjust="spacingAndGlyphs" fill="#2962ff" stroke="#2962ff" stroke-width="0.3">1.34930</text>
<text x="12.59" y="507.50" font-size="18.75" textLength="26.69" lengthAdjust="spacingAndGlyphs" fill="#131722" stroke="#131722" stroke-width="0.3">RSI</text>
<text x="44.78" y="507.50" font-size="18.75" textLength="19.22" lengthAdjust="spacingAndGlyphs" fill="#5d606b" stroke="#5d606b" stroke-width="0.3">14</text>
<text x="70.20" y="507.50" font-size="18.75" textLength="43.94" lengthAdjust="spacingAndGlyphs" fill="#5d606b" stroke="#5d606b" stroke-width="0.3">close</text>
<text x="165.22" y="507.50" font-size="18.75" textLength="48.34" lengthAdjust="spacingAndGlyphs" fill="#7e57c2" stroke="#7e57c2" stroke-width="0.3">62.10</text>
<text x="222.93" y="507.50" font-size="18.75" textLength="48.33" lengthAdjust="spacingAndGlyphs" fill="#fdd835" stroke="#fdd835" stroke-width="0.3">54.60</text>
<text x="1840.27" y="18.20" font-size="15.70" textLength="58.15" lengthAdjust="spacingAndGlyphs" fill="#131722" stroke="#131722" stroke-width="0.3">1.40000</text>
<text x="1840.27" y="74.20" font-size="15.70" textLength="58.15" lengthAdjust="spacingAndGlyphs" fill="#131722" stroke="#131722" stroke-width="0.3">1.38000</text>
<text x="1840.27" y="129.20" font-size="15.70" textLength="58.15" lengthAdjust="spacingAndGlyphs" fill="#131722" stroke="#131722" stroke-width="0.3">1.36000</text>
<text x="1840.27" y="185.20" font-size="15.70" textLength="58.15" lengthAdjust="spacingAndGlyphs" fill="#131722" stroke="#131722" stroke-width="0.3">1.34000</text>
<text x="1840.27" y="240.20" font-size="15.70" textLength="58.15" lengthAdjust="spacingAndGlyphs" fill="#131722" stroke="#131722" stroke-width="0.3">1.32000</text>
<text x="1840.27" y="296.20" font-size="15.70" textLength="58.15" lengthAdjust="spacingAndGlyphs" fill="#131722" stroke="#131722" stroke-width="0.3">1.30000</text>
<text x="1840.27" y="351.20" font-size="15.70" textLength="58.15" lengthAdjust="spacingAndGlyphs" fill="#131722" stroke="#131722" stroke-width="0.3">1.28000</text>
<text x="1840.27" y="406.20" font-size="15.70" textLength="58.15" lengthAdjust="spacingAndGlyphs" fill="#131722" stroke="#131722" stroke-width="0.3">1.26000</text>
<text x="1840.27" y="462.20" font-size="15.70" textLength="58.15" lengthAdjust="spacingAndGlyphs" fill="#131722" stroke="#131722" stroke-width="0.3">1.24000</text>
<text x="1840.17" y="506.00" font-size="15.70" textLength="40.67" lengthAdjust="spacingAndGlyphs" fill="#131722" stroke="#131722" stroke-width="0.3">70.00</text>
<text x="1840.17" y="560.25" font-size="15.70" textLength="40.66" lengthAdjust="spacingAndGlyphs" fill="#131722" stroke="#131722" stroke-width="0.3">60.00</text>
<text x="1840.35" y="614.50" font-size="15.70" textLength="40.48" lengthAdjust="spacingAndGlyphs" fill="#131722" stroke="#131722" stroke-width="0.3">50.00</text>
<text x="1840.63" y="668.75" font-size="15.70" textLength="40.20" lengthAdjust="spacingAndGlyphs" fill="#131722" stroke="#131722" stroke-width="0.3">40.00</text>
<text x="1840.38" y="723.00" font-size="15.70" textLength="40.45" lengthAdjust="spacingAndGlyphs" fill="#131722" stroke="#131722" stroke-width="0.3">30.00</text>
<text x="57.11" y="757.80" font-size="16.42" textLength="29.09" lengthAdjust="spacingAndGlyphs" fill="#131722" stroke="#131722" stroke-width="0.55">Feb</text>
<text x="270.91" y="757.80" font-size="16.42" textLength="29.08" lengthAdjust="spacingAndGlyphs" fill="#131722" stroke="#131722" stroke-width="0.55">Mar</text>
<text x="497.99" y="757.80" font-size="16.42" textLength="26.27" lengthAdjust="spacingAndGlyphs" fill="#131722" stroke="#131722" stroke-width="0.55">Apr</text>
<text x="730.38" y="757.80" font-size="16.42" textLength="31.90" lengthAdjust="spacingAndGlyphs" fill="#131722" stroke="#131722" stroke-width="0.55">May</text>
<text x="969.81" y="757.80" font-size="16.42" textLength="27.22" lengthAdjust="spacingAndGlyphs" fill="#131722" stroke="#131722" stroke-width="0.55">Jun</text>
<text x="1197.64" y="757.80" font-size="16.42" textLength="21.58" lengthAdjust="spacingAndGlyphs" fill="#131722" stroke="#131722" stroke-width="0.55">Jul</text>
<text x="1440.51" y="757.80" font-size="16.42" textLength="30.04" lengthAdjust="spacingAndGlyphs" fill="#131722" stroke="#131722" stroke-width="0.55">Aug</text>
<text x="1664.95" y="757.80" font-size="16.42" textLength="30.04" lengthAdjust="spacingAndGlyphs" fill="#131722" stroke="#131722" stroke-width="0.55">Sep</text>
<path d="M1828 101 H1908 a3 3 0 0 1 3 3 V140 a3 3 0 0 1 -3 3 H1828 Z" fill="#f23645"/>
<path d="M1828 143.3 H1902 a3 3 0 0 1 3 3 V162.70000000000002 a3 3 0 0 1 -3 3 H1828 Z" fill="#2962ff"/>
<path d="M1828 532 H1885 a3 3 0 0 1 3 3 V551.7 a3 3 0 0 1 -3 3 H1828 Z" fill="#7e57c2"/>
<path d="M1828 573.1 H1885 a3 3 0 0 1 3 3 V592.8000000000001 a3 3 0 0 1 -3 3 H1828 Z" fill="#fdd835"/>
<text x="1841.71" y="118.70" font-size="15.41" textLength="56.66" lengthAdjust="spacingAndGlyphs" fill="#fff" stroke="#fff" stroke-width="0.5">1.36421</text>
<text x="1840.34" y="137.50" font-size="15.12" textLength="65.29" lengthAdjust="spacingAndGlyphs" fill="#fff" fill-opacity="0.78" stroke="#fff" stroke-width="0.3">09:49:16</text>
<text x="1841.68" y="160.60" font-size="15.70" textLength="58.05" lengthAdjust="spacingAndGlyphs" fill="#fff" stroke="#fff" stroke-width="0.5">1.34930</text>
<text x="1840.14" y="549.40" font-size="15.41" textLength="42.32" lengthAdjust="spacingAndGlyphs" fill="#fff" stroke="#fff" stroke-width="0.5">62.10</text>
<text x="1840.33" y="590.50" font-size="15.41" textLength="42.13" lengthAdjust="spacingAndGlyphs" fill="#131722" stroke="#131722" stroke-width="0.3">54.60</text>
<g><path d="M73.2 690.55 H89.6" fill="none" stroke="#fff" stroke-width="10.399999999999999" stroke-linejoin="miter" stroke-miterlimit="3"/><path d="M81.3 690 V710.9" fill="none" stroke="#fff" stroke-width="10.3" stroke-linejoin="miter" stroke-miterlimit="3"/><path d="M92.25 694.6 V710.9" fill="none" stroke="#fff" stroke-width="10.1" stroke-linejoin="miter" stroke-miterlimit="3"/><path d="M92.25 703.2 C92.25 698.6 95.2 696.5 99.5 696.9" fill="none" stroke="#fff" stroke-width="10.1" stroke-linejoin="miter" stroke-miterlimit="3"/><path d="M114.0 702.85 A6.1 6.1 0 1 0 101.8 702.85 A6.1 6.1 0 1 0 114.0 702.85" fill="none" stroke="#fff" stroke-width="10.1" stroke-linejoin="miter" stroke-miterlimit="3"/><path d="M114.5 694.6 V710.9" fill="none" stroke="#fff" stroke-width="10.2" stroke-linejoin="miter" stroke-miterlimit="3"/><path d="M133.7 702.85 A6.1 6.1 0 1 0 121.5 702.85 A6.1 6.1 0 1 0 133.7 702.85" fill="none" stroke="#fff" stroke-width="10.1" stroke-linejoin="miter" stroke-miterlimit="3"/><path d="M134.25 688.25 V710.9" fill="none" stroke="#fff" stroke-width="10.2" stroke-linejoin="miter" stroke-miterlimit="3"/><path d="M141.9 694.6 V710.9" fill="none" stroke="#fff" stroke-width="10.2" stroke-linejoin="miter" stroke-miterlimit="3"/><path d="M149.3 694.6 V710.9" fill="none" stroke="#fff" stroke-width="10.1" stroke-linejoin="miter" stroke-miterlimit="3"/><path d="M149.3 702.6 A5.25 5.8 0 0 1 159.8 702.6 V710.9" fill="none" stroke="#fff" stroke-width="10.2" stroke-linejoin="miter" stroke-miterlimit="3"/><path d="M178.5 702.85 A6.1 6.1 0 1 0 166.3 702.85 A6.1 6.1 0 1 0 178.5 702.85" fill="none" stroke="#fff" stroke-width="10.1" stroke-linejoin="miter" stroke-miterlimit="3"/><path d="M179.3 694.6 V711.6 C179.3 716.6 172.8 718.0 166.4 714.2" fill="none" stroke="#fff" stroke-width="10.2" stroke-linejoin="miter" stroke-miterlimit="3"/><path d="M207.8 694.6 V710.9" fill="none" stroke="#fff" stroke-width="10.2" stroke-linejoin="miter" stroke-miterlimit="3"/><path d="M215.6 703.4 H227.4" fill="none" stroke="#fff" stroke-width="8.8" stroke-linejoin="miter" stroke-miterlimit="3"/><path d="M227.3 703.4 A6.1 6.1 0 1 0 225.7 707.1" fill="none" stroke="#fff" stroke-width="10.1" stroke-linejoin="miter" stroke-miterlimit="3"/><g fill="#fff" stroke="#fff" stroke-width="5.8" stroke-linejoin="miter" stroke-miterlimit="3"><circle cx="141.9" cy="690.6" r="2.75"/><path d="M181.1 688.25 H186.4 L192.7 704.8 L198.7 688.25 H203.8 L195.3 710.9 H190.0 Z"/><circle cx="207.75" cy="690.4" r="2.75"/><path d="M230.05 694.6 H234.95 L240.30 710.9 H235.40 Z"/><path d="M235.40 710.9 H240.30 L244.90 695.2 H240.00 Z"/><path d="M240.00 695.2 H244.90 L249.50 710.9 H244.60 Z"/><path d="M244.60 710.9 H249.50 L254.85 694.6 H249.95 Z"/></g><circle cx="107.9" cy="702.85" r="6.1" fill="#fff"/><circle cx="127.6" cy="702.85" r="6.1" fill="#fff"/><circle cx="172.4" cy="702.85" r="6.1" fill="#fff"/><circle cx="221.2" cy="702.85" r="6.1" fill="#fff"/><path d="M73.2 690.55 H89.6" fill="none" stroke="#111114" stroke-width="4.6" stroke-linejoin="miter" stroke-miterlimit="3"/><path d="M81.3 690 V710.9" fill="none" stroke="#111114" stroke-width="4.5" stroke-linejoin="miter" stroke-miterlimit="3"/><path d="M92.25 694.6 V710.9" fill="none" stroke="#111114" stroke-width="4.3" stroke-linejoin="miter" stroke-miterlimit="3"/><path d="M92.25 703.2 C92.25 698.6 95.2 696.5 99.5 696.9" fill="none" stroke="#111114" stroke-width="4.3" stroke-linejoin="miter" stroke-miterlimit="3"/><path d="M114.0 702.85 A6.1 6.1 0 1 0 101.8 702.85 A6.1 6.1 0 1 0 114.0 702.85" fill="none" stroke="#111114" stroke-width="4.3" stroke-linejoin="miter" stroke-miterlimit="3"/><path d="M114.5 694.6 V710.9" fill="none" stroke="#111114" stroke-width="4.4" stroke-linejoin="miter" stroke-miterlimit="3"/><path d="M133.7 702.85 A6.1 6.1 0 1 0 121.5 702.85 A6.1 6.1 0 1 0 133.7 702.85" fill="none" stroke="#111114" stroke-width="4.3" stroke-linejoin="miter" stroke-miterlimit="3"/><path d="M134.25 688.25 V710.9" fill="none" stroke="#111114" stroke-width="4.4" stroke-linejoin="miter" stroke-miterlimit="3"/><path d="M141.9 694.6 V710.9" fill="none" stroke="#111114" stroke-width="4.4" stroke-linejoin="miter" stroke-miterlimit="3"/><path d="M149.3 694.6 V710.9" fill="none" stroke="#111114" stroke-width="4.3" stroke-linejoin="miter" stroke-miterlimit="3"/><path d="M149.3 702.6 A5.25 5.8 0 0 1 159.8 702.6 V710.9" fill="none" stroke="#111114" stroke-width="4.4" stroke-linejoin="miter" stroke-miterlimit="3"/><path d="M178.5 702.85 A6.1 6.1 0 1 0 166.3 702.85 A6.1 6.1 0 1 0 178.5 702.85" fill="none" stroke="#111114" stroke-width="4.3" stroke-linejoin="miter" stroke-miterlimit="3"/><path d="M179.3 694.6 V711.6 C179.3 716.6 172.8 718.0 166.4 714.2" fill="none" stroke="#111114" stroke-width="4.4" stroke-linejoin="miter" stroke-miterlimit="3"/><path d="M207.8 694.6 V710.9" fill="none" stroke="#111114" stroke-width="4.4" stroke-linejoin="miter" stroke-miterlimit="3"/><path d="M215.6 703.4 H227.4" fill="none" stroke="#111114" stroke-width="3.0" stroke-linejoin="miter" stroke-miterlimit="3"/><path d="M227.3 703.4 A6.1 6.1 0 1 0 225.7 707.1" fill="none" stroke="#111114" stroke-width="4.3" stroke-linejoin="miter" stroke-miterlimit="3"/><g fill="#111114" ><circle cx="141.9" cy="690.6" r="2.75"/><path d="M181.1 688.25 H186.4 L192.7 704.8 L198.7 688.25 H203.8 L195.3 710.9 H190.0 Z"/><circle cx="207.75" cy="690.4" r="2.75"/><path d="M230.05 694.6 H234.95 L240.30 710.9 H235.40 Z"/><path d="M235.40 710.9 H240.30 L244.90 695.2 H240.00 Z"/><path d="M240.00 695.2 H244.90 L249.50 710.9 H244.60 Z"/><path d="M244.60 710.9 H249.50 L254.85 694.6 H249.95 Z"/></g></g></svg>
</body>
</html>
